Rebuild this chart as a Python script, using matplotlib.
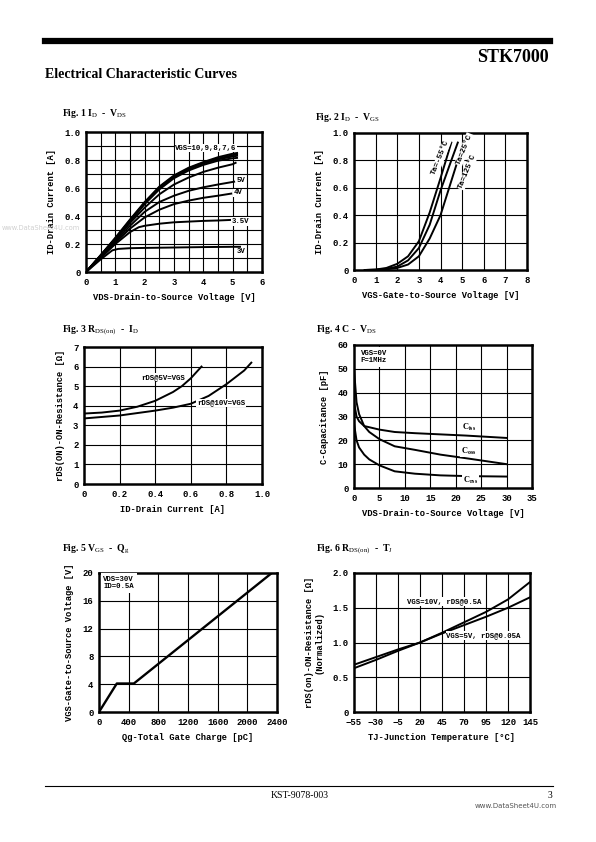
import matplotlib
matplotlib.use("Agg")
import matplotlib.pyplot as plt

plt.rcParams['mathtext.fontset'] = 'custom'
plt.rcParams['mathtext.rm'] = 'Liberation Serif'
plt.rcParams['mathtext.bf'] = 'Liberation Serif:bold'
plt.rcParams['mathtext.it'] = 'Liberation Serif:italic'

MONO = 'Liberation Mono'
SERIF = 'Liberation Serif'

# ---------------- Data ----------------
# Fig 1: ID vs VDS for several VGS
vds_hi = [0, 0.5, 1, 1.5, 2, 2.5, 3, 3.5, 4, 4.5, 5, 5.15]
id_vgs10 = [0, 0.12, 0.245, 0.375, 0.50, 0.61, 0.69, 0.745, 0.785, 0.82, 0.845, 0.85]
id_vgs9 = [0, 0.12, 0.24, 0.37, 0.495, 0.605, 0.685, 0.74, 0.78, 0.81, 0.835, 0.84]
id_vgs8 = [0, 0.118, 0.238, 0.366, 0.49, 0.60, 0.68, 0.735, 0.775, 0.805, 0.825, 0.83]
id_vgs7 = [0, 0.116, 0.235, 0.36, 0.485, 0.59, 0.67, 0.725, 0.765, 0.795, 0.812, 0.815]
vds_6 = [0, 0.5, 1, 1.5, 2, 2.5, 3, 3.5, 4, 4.5, 5, 5.1]
id_vgs6 = [0, 0.115, 0.23, 0.35, 0.46, 0.555, 0.625, 0.675, 0.715, 0.745, 0.77, 0.78]
vds_5 = [0, 0.5, 1, 1.5, 2, 2.5, 3, 3.5, 4, 4.5, 5.05]
id_vgs5 = [0, 0.11, 0.22, 0.33, 0.43, 0.50, 0.545, 0.58, 0.605, 0.625, 0.645]
vds_4 = [0, 0.5, 1, 1.5, 2, 2.5, 3, 3.5, 4, 4.5, 4.95]
id_vgs4 = [0, 0.105, 0.21, 0.31, 0.39, 0.445, 0.485, 0.51, 0.53, 0.545, 0.56]
vds_35 = [0, 0.5, 1, 1.5, 1.8, 2, 2.5, 3, 3.5, 4, 4.5, 4.95]
id_vgs35 = [0, 0.10, 0.20, 0.285, 0.32, 0.33, 0.345, 0.355, 0.36, 0.365, 0.368, 0.372]
vds_3 = [0, 0.5, 0.9, 1.1, 1.5, 2, 3, 4, 5, 5.25]
id_vgs3 = [0, 0.09, 0.155, 0.165, 0.17, 0.172, 0.175, 0.178, 0.18, 0.18]

# Fig 2: ID vs VGS at three temperatures
vgs_m55 = [0.5, 1, 1.5, 2, 2.5, 3, 3.5, 4, 4.5]
id_m55 = [0, 0.003, 0.015, 0.045, 0.10, 0.21, 0.42, 0.67, 0.93]
vgs_25 = [0.5, 1, 1.5, 2, 2.5, 3, 3.5, 4, 4.5, 4.8]
id_25 = [0, 0.002, 0.008, 0.025, 0.07, 0.16, 0.33, 0.58, 0.80, 0.93]
vgs_125 = [0.5, 1, 1.5, 2, 2.5, 3, 3.5, 4, 4.5, 5.0]
id_125 = [0, 0.001, 0.005, 0.015, 0.04, 0.10, 0.23, 0.40, 0.65, 0.90]

# Fig 3: RDS(on) vs ID
id_r5 = [0, 0.1, 0.2, 0.3, 0.4, 0.5, 0.55, 0.6, 0.66]
r_5v = [3.6, 3.65, 3.75, 3.95, 4.25, 4.7, 5.0, 5.4, 6.0]
id_r10 = [0, 0.2, 0.4, 0.5, 0.6, 0.7, 0.8, 0.9, 0.94]
r_10v = [3.35, 3.5, 3.75, 3.9, 4.1, 4.5, 5.1, 5.8, 6.2]

# Fig 4: capacitance vs VDS
vds_c = [0, 0.5, 1, 2, 3, 5, 8, 12, 17, 22, 30]
c_iss = [36, 30, 28, 26, 25.5, 24.5, 23.5, 23, 22.5, 22, 21]
c_oss = [50, 36, 31, 26, 23.5, 20.5, 17.5, 16, 14, 12.5, 10]
c_rss = [27, 20, 17, 14, 12, 9.5, 7, 6, 5.3, 5, 4.8]

# Fig 5: gate charge
qg = [0, 240, 470, 2330]
vgs_q = [0, 4.1, 4.1, 20]

# Fig 6: normalized RDS(on) vs TJ
tj = [-55, -30, -5, 20, 45, 70, 95, 120, 145]
rn_10v = [0.63, 0.75, 0.88, 1.0, 1.14, 1.29, 1.44, 1.62, 1.87]
rn_5v = [0.68, 0.79, 0.90, 1.0, 1.13, 1.25, 1.37, 1.50, 1.65]

# ---------------- Figure ----------------
W, H = 596, 842
fig = plt.figure(figsize=(W / 100, H / 100), dpi=100)


def px_axes(x0, y0, x1, y1):
    return fig.add_axes([x0 / W, 1 - y1 / H, (x1 - x0) / W, (y1 - y0) / H])


def style(ax, xlim, ylim, xgrid, ygrid, xticks, yticks, xticklabels=None, yticklabels=None):
    ax.set_xlim(*xlim)
    ax.set_ylim(*ylim)
    for g in xgrid:
        ax.axvline(g, color='black', lw=0.8, zorder=1)
    for g in ygrid:
        ax.axhline(g, color='black', lw=0.8, zorder=1)
    ax.set_xticks(xticks)
    ax.set_yticks(yticks)
    if xticklabels is not None:
        ax.set_xticklabels(xticklabels)
    if yticklabels is not None:
        ax.set_yticklabels(yticklabels)
    ax.tick_params(length=0, pad=4, labelsize=6.5)
    for lab in ax.get_xticklabels() + ax.get_yticklabels():
        lab.set_fontfamily(MONO)
        lab.set_fontweight('bold')
    for s in ax.spines.values():
        s.set_linewidth(1.8)


def lab(ax, xl, yl, xpad=5, ypad=6):
    ax.set_xlabel(xl, fontfamily=MONO, fontweight='bold', fontsize=6.3, labelpad=xpad)
    ax.set_ylabel(yl, fontfamily=MONO, fontweight='bold', fontsize=6.3, labelpad=ypad)


def ftext(x, y, s, **kw):
    fig.text(x / W, 1 - y / H, s, **kw)


LW = 1.4
BOX = dict(facecolor='white', edgecolor='none', pad=0.5)

# Header
fig.add_artist(plt.Line2D([45 / W, 550 / W], [1 - 41 / H, 1 - 41 / H], color='black', lw=4.5))
ftext(549, 57, 'STK7000', ha='right', va='center', fontfamily=SERIF, fontweight='bold', fontsize=13)
ftext(45, 75, 'Electrical Characteristic Curves', ha='left', va='center', fontfamily=SERIF,
      fontweight='bold', fontsize=10)

# Footer
fig.add_artist(plt.Line2D([45 / W, 553 / W], [1 - 786 / H, 1 - 786 / H], color='black', lw=0.8))
ftext(300, 796, 'KST-9078-003', ha='center', va='center', fontfamily=SERIF, fontsize=7)
ftext(552, 796, '3', ha='right', va='center', fontfamily=SERIF, fontsize=7)
ftext(557, 806, 'www.DataSheet4U.com', ha='right', va='center', fontfamily='DejaVu Sans',
      fontsize=5, color='#555555')
# watermark
ftext(2, 228, 'www.DataSheet4U.com', ha='left', va='center', fontfamily='DejaVu Sans',
      fontsize=4.8, color='#d0d0d0', zorder=0)

TITLE = dict(fontfamily=SERIF, fontweight='bold', fontsize=7, ha='left', va='center')
ftext(62, 114, r'Fig. 1 I$_{\rm D}$  -  V$_{\rm DS}$', **TITLE)
ftext(315, 117, r'Fig. 2 I$_{\rm D}$  -  V$_{\rm GS}$', **TITLE)
ftext(62, 330, r'Fig. 3 R$_{\rm DS(on)}$  -  I$_{\rm D}$', **TITLE)
ftext(316, 330, r'Fig. 4 C -  V$_{\rm DS}$', **TITLE)
ftext(62, 549, r'Fig. 5 V$_{\rm GS}$  -  Q$_{\rm g}$', **TITLE)
ftext(316, 549, r'Fig. 6 R$_{\rm DS(on)}$  -  T$_{\rm J}$', **TITLE)

# ---- Fig 1 ----
ax1 = px_axes(86, 132, 262, 272)
style(ax1, (0, 6), (0, 1.0), [i * 0.5 for i in range(1, 12)], [i * 0.1 for i in range(1, 10)],
      range(0, 7), [0, 0.2, 0.4, 0.6, 0.8, 1.0], None, ['0', '0.2', '0.4', '0.6', '0.8', '1.0'])
for y in (id_vgs10, id_vgs9, id_vgs8, id_vgs7):
    ax1.plot(vds_hi, y, color='black', lw=LW, zorder=3)
ax1.plot(vds_6, id_vgs6, color='black', lw=LW, zorder=3)
ax1.plot(vds_5, id_vgs5, color='black', lw=LW, zorder=3)
ax1.plot(vds_4, id_vgs4, color='black', lw=LW, zorder=3)
ax1.plot(vds_35, id_vgs35, color='black', lw=LW, zorder=3)
ax1.plot(vds_3, id_vgs3, color='black', lw=LW, zorder=3)
T1 = dict(fontfamily=MONO, fontweight='bold', fontsize=5.3, va='center', zorder=4, bbox=BOX)
ax1.text(3.05, 0.885, 'VGS=10,9,8,7,6', ha='left', **T1)
ax1.text(5.15, 0.655, '5V', ha='left', **T1)
ax1.text(5.05, 0.565, '4V', ha='left', **T1)
ax1.text(4.98, 0.36, '3.5V', ha='left', **T1)
ax1.text(5.15, 0.145, '3V', ha='left', **T1)
lab(ax1, 'VDS-Drain-to-Source Voltage [V]', 'ID-Drain Current [A]')

# ---- Fig 2 ----
ax2 = px_axes(354, 133, 527, 270)
style(ax2, (0, 8), (0, 1.0), range(1, 8), [0.2, 0.4, 0.6, 0.8],
      range(0, 9), [0, 0.2, 0.4, 0.6, 0.8, 1.0], None, ['0', '0.2', '0.4', '0.6', '0.8', '1.0'])
ax2.plot(vgs_m55, id_m55, color='black', lw=LW, zorder=3)
ax2.plot(vgs_25, id_25, color='black', lw=LW, zorder=3)
ax2.plot(vgs_125, id_125, color='black', lw=LW, zorder=3)
T2 = dict(fontfamily=MONO, fontweight='bold', fontsize=5.6, va='center', ha='center', zorder=4, bbox=BOX)
ax2.text(4.0, 0.82, 'Ta=-55°C', rotation=68, **T2)
ax2.text(5.1, 0.88, 'Ta=25°C', rotation=68, **T2)
ax2.text(5.25, 0.72, 'Ta=125°C', rotation=68, **T2)
lab(ax2, 'VGS-Gate-to-Source Voltage [V]', 'ID-Drain Current [A]')

# ---- Fig 3 ----
ax3 = px_axes(84, 347, 262, 484)
style(ax3, (0, 1.0), (0, 7), [0.2, 0.4, 0.6, 0.8], range(1, 7),
      [0, 0.2, 0.4, 0.6, 0.8, 1.0], range(0, 8), ['0', '0.2', '0.4', '0.6', '0.8', '1.0'])
ax3.plot(id_r5, r_5v, color='black', lw=LW, zorder=3)
ax3.plot(id_r10, r_10v, color='black', lw=LW, zorder=3)
ax3.text(0.32, 5.45, 'rDS@5V=VGS', ha='left', **T1)
ax3.text(0.635, 4.15, 'rDS@10V=VGS', ha='left', **T1)
lab(ax3, 'ID-Drain Current [A]', 'rDS(ON)-ON-Resistance [Ω]')

# ---- Fig 4 ----
ax4 = px_axes(354, 345, 532, 488)
style(ax4, (0, 35), (0, 60), range(5, 35, 5), range(10, 60, 10),
      range(0, 40, 5), range(0, 70, 10))
ax4.plot(vds_c, c_iss, color='black', lw=LW, zorder=3)
ax4.plot(vds_c, c_oss, color='black', lw=LW, zorder=3)
ax4.plot(vds_c, c_rss, color='black', lw=LW, zorder=3)
ax4.text(1.3, 55, 'VGS=0V\nF=1MHz', ha='left', fontfamily=MONO, fontweight='bold', fontsize=5.3,
         va='center', linespacing=1.0, zorder=4,
         bbox=dict(facecolor='white', edgecolor='none', pad=2))
T4 = dict(fontsize=6, va='center', ha='left', zorder=4, bbox=BOX)
ax4.text(21.2, 25.5, r'$\mathbf{C_{iss}}$', **T4)
ax4.text(21.0, 15.5, r'$\mathbf{C_{oss}}$', **T4)
ax4.text(21.4, 3.0, r'$\mathbf{C_{rss}}$', **T4)
lab(ax4, 'VDS-Drain-to-Source Voltage [V]', 'C-Capacitance [pF]')

# ---- Fig 5 ----
ax5 = px_axes(99, 573, 277, 712)
style(ax5, (0, 2400), (0, 20), range(400, 2400, 400), range(4, 20, 4),
      range(0, 2800, 400), range(0, 24, 4))
ax5.plot(qg, vgs_q, color='black', lw=LW + 0.3, zorder=3)
ax5.text(60, 18.6, 'VDS=30V\nID=0.5A', ha='left', fontfamily=MONO, fontweight='bold', fontsize=5.3,
         va='center', linespacing=1.0, zorder=4,
         bbox=dict(facecolor='white', edgecolor='none', pad=2))
lab(ax5, 'Qg-Total Gate Charge [pC]', 'VGS-Gate-to-Source Voltage [V]')

# ---- Fig 6 ----
ax6 = px_axes(354, 573, 530, 712)
style(ax6, (-55, 145), (0, 2.0), range(-30, 145, 25), [0.5, 1.0, 1.5],
      range(-55, 170, 25), [0, 0.5, 1.0, 1.5, 2.0], None, ['0', '0.5', '1.0', '1.5', '2.0'])
ax6.plot(tj, rn_10v, color='black', lw=LW, zorder=3)
ax6.plot(tj, rn_5v, color='black', lw=LW, zorder=3)
ax6.text(5, 1.59, 'VGS=10V, rDS@0.5A', ha='left', **T1)
ax6.text(50, 1.1, 'VGS=5V, rDS@0.05A', ha='left', **T1)
lab(ax6, 'TJ-Junction Temperature [°C]', 'rDS(on)-ON-Resistance [Ω]\n(Normalized)')

fig.savefig('out.png', dpi=100)
